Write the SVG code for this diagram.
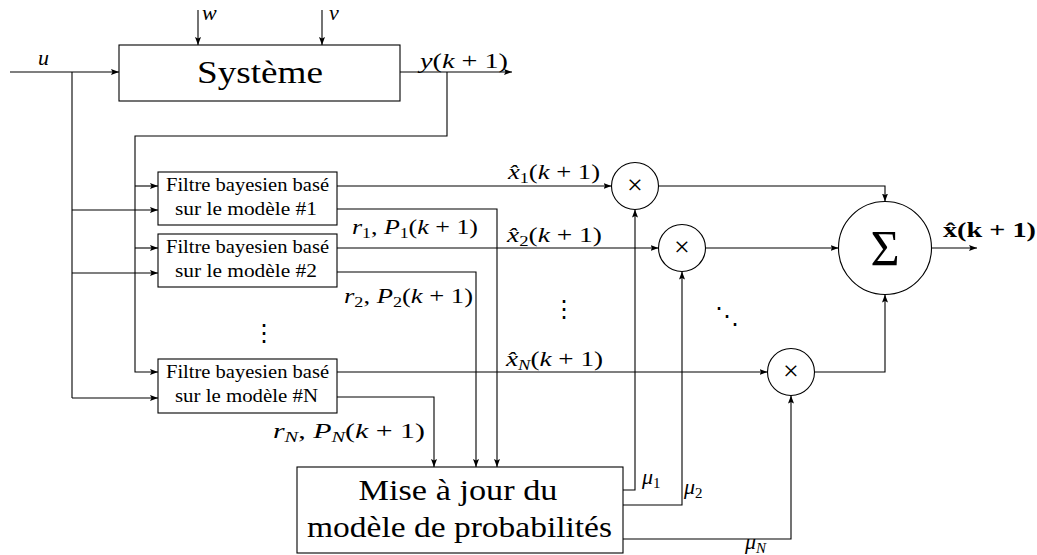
<svg xmlns="http://www.w3.org/2000/svg" width="1037" height="555" viewBox="0 0 1037 555">
<defs>
<style>
.ln{fill:none;stroke:#000;stroke-width:1.1}
.ar{marker-end:url(#ah)}
.box{fill:#fff;stroke:#000;stroke-width:1.1}
.t{font-family:"Liberation Serif",serif;fill:#000}
.m{font-family:"Liberation Serif",serif;font-size:22px;fill:#000}
.i{font-style:italic}
.s{font-size:15px}
.ft{font-family:"Liberation Serif",serif;font-size:18.5px;text-anchor:middle;fill:#000}
.dots{font-family:"DejaVu Sans",sans-serif;font-size:24px;fill:#000}
</style>
<marker id="ah" markerWidth="8" markerHeight="6" refX="8" refY="3" orient="auto" markerUnits="userSpaceOnUse">
<path d="M0,0 L8,3 L0,6 L1.5,3 z" fill="#000"/>
</marker>
</defs>
<rect width="1037" height="555" fill="#fff"/>

<g id="connectors">
<path class="ln ar" d="M10,72 H119"/>
<path class="ln" d="M72,72 V398"/>
<path class="ln ar" d="M72,210 H158"/>
<path class="ln ar" d="M72,273 H158"/>
<path class="ln ar" d="M72,398 H158"/>
<path class="ln ar" d="M198,10 V45"/>
<path class="ln ar" d="M322,10 V45"/>
<path class="ln ar" d="M400,72 H512"/>
<path class="ln ar" d="M447,72 V136 H135 V372 H158"/>
<path class="ln ar" d="M135,186 H158"/>
<path class="ln ar" d="M135,248 H158"/>
<path class="ln ar" d="M337,186 H611.5"/>
<path class="ln ar" d="M337,209 H497 V467"/>
<path class="ln ar" d="M337,248 H658.5"/>
<path class="ln ar" d="M337,272 H476 V467"/>
<path class="ln ar" d="M337,372 H767.5"/>
<path class="ln ar" d="M337,397 H434 V467"/>
<path class="ln ar" d="M623,490 H635 V209.5"/>
<path class="ln ar" d="M623,505 H682 V271.5"/>
<path class="ln ar" d="M623,539 H791 V395.5"/>
<path class="ln ar" d="M658.5,186 H885 V201.5"/>
<path class="ln ar" d="M705.5,248 H838.5"/>
<path class="ln ar" d="M814.5,372 H885 V294.5"/>
<path class="ln ar" d="M931.5,248 H977"/>
</g>

<g id="systeme">
<rect class="box" x="119" y="45" width="281" height="56"/>
<text class="t" x="260" y="83" font-size="32" text-anchor="middle" textLength="126" lengthAdjust="spacingAndGlyphs">Système</text>
</g>

<g id="filtre1">
<rect class="box" x="158" y="172" width="179" height="53"/>
<text class="ft" x="247.5" y="191" textLength="163" lengthAdjust="spacingAndGlyphs">Filtre bayesien basé</text>
<text class="ft" x="246" y="215" textLength="142" lengthAdjust="spacingAndGlyphs">sur le modèle #1</text>
</g>
<g id="filtre2">
<rect class="box" x="158" y="234" width="179" height="53"/>
<text class="ft" x="247.5" y="253" textLength="163" lengthAdjust="spacingAndGlyphs">Filtre bayesien basé</text>
<text class="ft" x="246" y="277" textLength="142" lengthAdjust="spacingAndGlyphs">sur le modèle #2</text>
</g>
<g id="filtreN">
<rect class="box" x="158" y="359" width="179" height="54"/>
<text class="ft" x="247.5" y="378" textLength="163" lengthAdjust="spacingAndGlyphs">Filtre bayesien basé</text>
<text class="ft" x="246.5" y="402" textLength="143" lengthAdjust="spacingAndGlyphs">sur le modèle #N</text>
</g>

<g id="mult1">
<circle class="box" cx="635" cy="186" r="23.5"/>
<text class="t" x="635" y="194" font-size="28" text-anchor="middle">×</text>
</g>
<g id="mult2">
<circle class="box" cx="682" cy="248" r="23.5"/>
<text class="t" x="682" y="256" font-size="28" text-anchor="middle">×</text>
</g>
<g id="multN">
<circle class="box" cx="791" cy="372" r="23.5"/>
<text class="t" x="791" y="380" font-size="28" text-anchor="middle">×</text>
</g>

<g id="sigma">
<circle class="box" cx="885" cy="248" r="46.5"/>
<text class="t" x="885" y="265" font-size="50" text-anchor="middle">Σ</text>
</g>

<g id="maj">
<rect class="box" x="297" y="467" width="326" height="86"/>
<text class="t" x="458" y="500" font-size="29" text-anchor="middle" textLength="199" lengthAdjust="spacingAndGlyphs">Mise à jour du</text>
<text class="t" x="459.5" y="537" font-size="29" text-anchor="middle" textLength="305" lengthAdjust="spacingAndGlyphs">modèle de probabilités</text>
</g>

<g id="labels">
<text class="m i" x="38" y="65">u</text>
<text class="m i" x="202" y="20">w</text>
<text class="m i" x="329" y="20">v</text>
<text class="m" x="420" y="68" textLength="88" lengthAdjust="spacingAndGlyphs"><tspan class="i">y</tspan>(<tspan class="i">k</tspan> + 1)</text>
<text class="m" x="508" y="179" textLength="92" lengthAdjust="spacingAndGlyphs"><tspan class="i">x̂</tspan><tspan class="s" dy="4">1</tspan><tspan dy="-4">(</tspan><tspan class="i">k</tspan> + 1)</text>
<text class="m" x="352" y="234" textLength="126" lengthAdjust="spacingAndGlyphs"><tspan class="i">r</tspan><tspan class="s" dy="4">1</tspan><tspan dy="-4">, </tspan><tspan class="i">P</tspan><tspan class="s" dy="4">1</tspan><tspan dy="-4">(</tspan><tspan class="i">k</tspan> + 1)</text>
<text class="m" x="507" y="242" textLength="95" lengthAdjust="spacingAndGlyphs"><tspan class="i">x̂</tspan><tspan class="s" dy="4">2</tspan><tspan dy="-4">(</tspan><tspan class="i">k</tspan> + 1)</text>
<text class="m" x="344" y="303" textLength="129" lengthAdjust="spacingAndGlyphs"><tspan class="i">r</tspan><tspan class="s" dy="4">2</tspan><tspan dy="-4">, </tspan><tspan class="i">P</tspan><tspan class="s" dy="4">2</tspan><tspan dy="-4">(</tspan><tspan class="i">k</tspan> + 1)</text>
<text class="m" x="506" y="366" textLength="97" lengthAdjust="spacingAndGlyphs"><tspan class="i">x̂</tspan><tspan class="s i" dy="4">N</tspan><tspan dy="-4">(</tspan><tspan class="i">k</tspan> + 1)</text>
<text class="m" x="273" y="438" textLength="152" lengthAdjust="spacingAndGlyphs"><tspan class="i">r</tspan><tspan class="s i" dy="4">N</tspan><tspan dy="-4">, </tspan><tspan class="i">P</tspan><tspan class="s i" dy="4">N</tspan><tspan dy="-4">(</tspan><tspan class="i">k</tspan> + 1)</text>
<text class="m" x="642" y="484"><tspan class="i">μ</tspan><tspan class="s" dy="4">1</tspan></text>
<text class="m" x="684" y="494"><tspan class="i">μ</tspan><tspan class="s" dy="4">2</tspan></text>
<text class="m" x="745" y="549"><tspan class="i">μ</tspan><tspan class="s i" dy="4">N</tspan></text>
<text class="m" x="943" y="237" font-weight="bold" textLength="93" lengthAdjust="spacingAndGlyphs">x̂(k + 1)</text>
<text class="dots" x="252" y="341">⋮</text>
<text class="dots" x="552" y="317">⋮</text>
<text class="dots" x="715" y="324">⋱</text>
</g>
</svg>
